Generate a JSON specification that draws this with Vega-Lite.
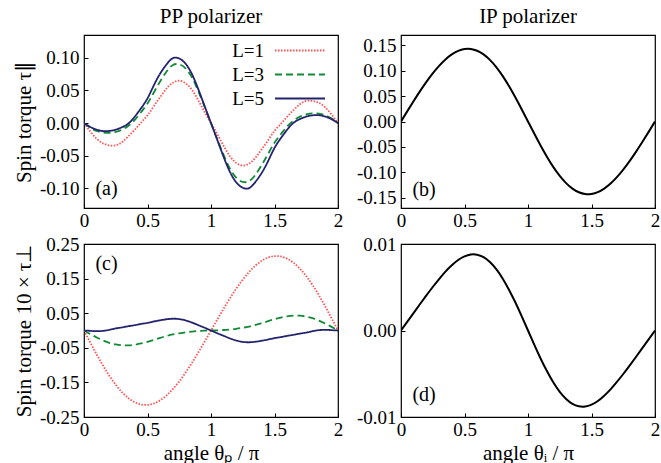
{
  "$schema": "https://vega.github.io/schema/vega-lite/v6.json",
  "background": "white",
  "padding": {"left": 12, "top": 5, "right": 4, "bottom": 0},
  "config": {
    "font": "Liberation Serif",
    "view": {"stroke": "black", "strokeWidth": 1.2},
    "axis": {"domain": false, "grid": false, "tickColor": "black", "tickSize": -4, "tickWidth": 1, "labelFont": "Liberation Serif", "labelFontSize": 19, "labelColor": "black", "labelOverlap": false, "labelFlush": false},
    "title": {"font": "Liberation Serif", "fontSize": 21, "fontWeight": "normal", "color": "black", "offset": 8},
    "legend": {"labelFont": "Liberation Serif", "labelFontSize": 19, "labelColor": "black"}
  },
  "datasets": {
    "par": [
      {"x": 0, "L1": 0, "L3": 0, "L5": 0, "ip": 0},
      {"x": 0.05, "L1": -0.013, "L3": -0.007, "L5": -0.006, "ip": 0.0204},
      {"x": 0.1, "L1": -0.024, "L3": -0.012, "L5": -0.010, "ip": 0.0404},
      {"x": 0.15, "L1": -0.031, "L3": -0.0145, "L5": -0.0122, "ip": 0.0597},
      {"x": 0.2, "L1": -0.034, "L3": -0.015, "L5": -0.0120, "ip": 0.0779},
      {"x": 0.25, "L1": -0.034, "L3": -0.0135, "L5": -0.0100, "ip": 0.0946},
      {"x": 0.3, "L1": -0.029, "L3": -0.010, "L5": -0.0062, "ip": 0.1094},
      {"x": 0.35, "L1": -0.020, "L3": -0.004, "L5": -0.0005, "ip": 0.1220},
      {"x": 0.4, "L1": -0.010, "L3": 0.005, "L5": 0.010, "ip": 0.1319},
      {"x": 0.45, "L1": 0.001, "L3": 0.017, "L5": 0.023, "ip": 0.1389},
      {"x": 0.5, "L1": 0.012, "L3": 0.030, "L5": 0.038, "ip": 0.1425},
      {"x": 0.55, "L1": 0.026, "L3": 0.047, "L5": 0.058, "ip": 0.1427},
      {"x": 0.6, "L1": 0.040, "L3": 0.064, "L5": 0.076, "ip": 0.1391},
      {"x": 0.65, "L1": 0.053, "L3": 0.079, "L5": 0.090, "ip": 0.1320},
      {"x": 0.7, "L1": 0.062, "L3": 0.089, "L5": 0.0995, "ip": 0.1212},
      {"x": 0.75, "L1": 0.065, "L3": 0.090, "L5": 0.099, "ip": 0.1070},
      {"x": 0.8, "L1": 0.061, "L3": 0.084, "L5": 0.091, "ip": 0.0897},
      {"x": 0.85, "L1": 0.051, "L3": 0.070, "L5": 0.075, "ip": 0.0697},
      {"x": 0.9, "L1": 0.035, "L3": 0.049, "L5": 0.052, "ip": 0.0476},
      {"x": 0.95, "L1": 0.017, "L3": 0.025, "L5": 0.026, "ip": 0.0242},
      {"x": 1, "L1": 0, "L3": 0, "L5": 0, "ip": 0},
      {"x": 1.05, "L1": -0.017, "L3": -0.025, "L5": -0.026, "ip": -0.0242},
      {"x": 1.1, "L1": -0.035, "L3": -0.049, "L5": -0.052, "ip": -0.0476},
      {"x": 1.15, "L1": -0.051, "L3": -0.070, "L5": -0.075, "ip": -0.0697},
      {"x": 1.2, "L1": -0.061, "L3": -0.084, "L5": -0.091, "ip": -0.0897},
      {"x": 1.25, "L1": -0.065, "L3": -0.090, "L5": -0.099, "ip": -0.1070},
      {"x": 1.3, "L1": -0.062, "L3": -0.089, "L5": -0.0995, "ip": -0.1212},
      {"x": 1.35, "L1": -0.053, "L3": -0.079, "L5": -0.090, "ip": -0.1320},
      {"x": 1.4, "L1": -0.040, "L3": -0.064, "L5": -0.076, "ip": -0.1391},
      {"x": 1.45, "L1": -0.026, "L3": -0.047, "L5": -0.058, "ip": -0.1427},
      {"x": 1.5, "L1": -0.012, "L3": -0.030, "L5": -0.038, "ip": -0.1425},
      {"x": 1.55, "L1": -0.001, "L3": -0.017, "L5": -0.023, "ip": -0.1389},
      {"x": 1.6, "L1": 0.010, "L3": -0.005, "L5": -0.010, "ip": -0.1319},
      {"x": 1.65, "L1": 0.020, "L3": 0.004, "L5": 0.0005, "ip": -0.1220},
      {"x": 1.7, "L1": 0.029, "L3": 0.010, "L5": 0.0062, "ip": -0.1094},
      {"x": 1.75, "L1": 0.034, "L3": 0.0135, "L5": 0.0100, "ip": -0.0946},
      {"x": 1.8, "L1": 0.034, "L3": 0.015, "L5": 0.0120, "ip": -0.0779},
      {"x": 1.85, "L1": 0.031, "L3": 0.0145, "L5": 0.0122, "ip": -0.0597},
      {"x": 1.9, "L1": 0.024, "L3": 0.012, "L5": 0.010, "ip": -0.0404},
      {"x": 1.95, "L1": 0.013, "L3": 0.007, "L5": 0.006, "ip": -0.0204},
      {"x": 2, "L1": 0, "L3": 0, "L5": 0, "ip": 0}
    ],
    "perp": [
      {"x": 0, "L1": 0, "L3": 0, "L5": 0, "ip": 0},
      {"x": 0.05, "L1": -0.0351, "L3": -0.0104, "L5": -0.001, "ip": 0.00102},
      {"x": 0.1, "L1": -0.0693, "L3": -0.0202, "L5": -0.002, "ip": 0.00204},
      {"x": 0.15, "L1": -0.1016, "L3": -0.0287, "L5": -0.001, "ip": 0.00306},
      {"x": 0.2, "L1": -0.1312, "L3": -0.0356, "L5": 0.002, "ip": 0.00406},
      {"x": 0.25, "L1": -0.1570, "L3": -0.0402, "L5": 0.006, "ip": 0.00503},
      {"x": 0.3, "L1": -0.1787, "L3": -0.0428, "L5": 0.009, "ip": 0.00595},
      {"x": 0.35, "L1": -0.1956, "L3": -0.0429, "L5": 0.0125, "ip": 0.00681},
      {"x": 0.4, "L1": -0.2074, "L3": -0.0411, "L5": 0.0155, "ip": 0.00754},
      {"x": 0.45, "L1": -0.2139, "L3": -0.0375, "L5": 0.019, "ip": 0.00815},
      {"x": 0.5, "L1": -0.2150, "L3": -0.0326, "L5": 0.022, "ip": 0.00857},
      {"x": 0.55, "L1": -0.2109, "L3": -0.0270, "L5": 0.026, "ip": 0.00879},
      {"x": 0.6, "L1": -0.2016, "L3": -0.0215, "L5": 0.0295, "ip": 0.00876},
      {"x": 0.65, "L1": -0.1876, "L3": -0.0160, "L5": 0.0325, "ip": 0.00847},
      {"x": 0.7, "L1": -0.1691, "L3": -0.0115, "L5": 0.034, "ip": 0.00791},
      {"x": 0.75, "L1": -0.1470, "L3": -0.0080, "L5": 0.033, "ip": 0.00709},
      {"x": 0.8, "L1": -0.1216, "L3": -0.0050, "L5": 0.029, "ip": 0.00602},
      {"x": 0.85, "L1": -0.0936, "L3": -0.0030, "L5": 0.023, "ip": 0.00472},
      {"x": 0.9, "L1": -0.0635, "L3": -0.0015, "L5": 0.0155, "ip": 0.00326},
      {"x": 0.95, "L1": -0.0321, "L3": -0.0005, "L5": 0.008, "ip": 0.00166},
      {"x": 1, "L1": 0, "L3": 0, "L5": 0, "ip": 0},
      {"x": 1.05, "L1": 0.0321, "L3": 0.0005, "L5": -0.008, "ip": -0.00166},
      {"x": 1.1, "L1": 0.0635, "L3": 0.0015, "L5": -0.0155, "ip": -0.00326},
      {"x": 1.15, "L1": 0.0936, "L3": 0.0030, "L5": -0.023, "ip": -0.00472},
      {"x": 1.2, "L1": 0.1216, "L3": 0.0050, "L5": -0.029, "ip": -0.00602},
      {"x": 1.25, "L1": 0.1470, "L3": 0.0080, "L5": -0.033, "ip": -0.00709},
      {"x": 1.3, "L1": 0.1691, "L3": 0.0115, "L5": -0.034, "ip": -0.00791},
      {"x": 1.35, "L1": 0.1876, "L3": 0.0160, "L5": -0.0325, "ip": -0.00847},
      {"x": 1.4, "L1": 0.2016, "L3": 0.0215, "L5": -0.0295, "ip": -0.00876},
      {"x": 1.45, "L1": 0.2109, "L3": 0.0270, "L5": -0.026, "ip": -0.00879},
      {"x": 1.5, "L1": 0.2150, "L3": 0.0326, "L5": -0.022, "ip": -0.00857},
      {"x": 1.55, "L1": 0.2139, "L3": 0.0375, "L5": -0.019, "ip": -0.00815},
      {"x": 1.6, "L1": 0.2074, "L3": 0.0411, "L5": -0.0155, "ip": -0.00754},
      {"x": 1.65, "L1": 0.1956, "L3": 0.0429, "L5": -0.0125, "ip": -0.00681},
      {"x": 1.7, "L1": 0.1787, "L3": 0.0428, "L5": -0.009, "ip": -0.00595},
      {"x": 1.75, "L1": 0.1570, "L3": 0.0402, "L5": -0.006, "ip": -0.00503},
      {"x": 1.8, "L1": 0.1312, "L3": 0.0356, "L5": -0.002, "ip": -0.00406},
      {"x": 1.85, "L1": 0.1016, "L3": 0.0287, "L5": 0.001, "ip": -0.00306},
      {"x": 1.9, "L1": 0.0693, "L3": 0.0202, "L5": 0.002, "ip": -0.00204},
      {"x": 1.95, "L1": 0.0351, "L3": 0.0104, "L5": 0.001, "ip": -0.00102},
      {"x": 2, "L1": 0, "L3": 0, "L5": 0, "ip": 0}
    ]
  },
  "resolve": {"scale": {"color": "independent", "strokeDash": "independent", "x": "independent", "y": "independent"}, "legend": {"color": "independent", "strokeDash": "independent"}},
  "spacing": 3,
  "vconcat": [
    {
      "spacing": 11,
      "resolve": {"scale": {"color": "independent", "strokeDash": "independent", "x": "independent", "y": "independent"}, "legend": {"color": "independent", "strokeDash": "independent"}},
      "hconcat": [
        {
          "width": 254, "height": 173,
          "title": {"text": "PP polarizer"},
          "encoding": {
            "x": {"type": "quantitative", "scale": {"domain": [0, 2], "nice": false},
                  "axis": {"title": null, "values": [0, 0.5, 1, 1.5, 2], "format": "~g",
                           "labelFont": "Liberation Serif", "labelFontSize": 19, "labelColor": "black", "labelPadding": 7, "labelFlush": false, "labelOverlap": false}},
            "y": {"type": "quantitative", "scale": {"domain": [-0.13, 0.135], "nice": false, "zero": false},
                  "axis": {"title": "Spin torque  τ∥", "titleFont": "Liberation Serif", "titleFontSize": 21, "titleFontWeight": "normal", "titleColor": "black", "titlePadding": 5,
                           "values": [-0.1, -0.05, 0, 0.05, 0.1],
                           "labelFont": "Liberation Serif", "labelFontSize": 19, "labelColor": "black", "labelPadding": 9, "labelFlush": false, "labelOverlap": false,
                           "labelExpr": "datum.value < 0 ? '-' + format(-datum.value, '.2f') : format(datum.value, '.2f')"}}
          },
          "layer": [
            {
              "data": {"name": "par"},
              "transform": [{"fold": ["L1", "L3", "L5"], "as": ["series", "v"]}],
              "mark": {"type": "line", "interpolate": "natural", "strokeWidth": 1.8, "clip": true},
              "encoding": {
                "x": {"field": "x"},
                "y": {"field": "v"},
                "color": {"field": "series", "type": "nominal",
                          "scale": {"domain": ["L1", "L3", "L5"], "range": ["#ff5050", "#138a36", "#23236e"]},
                          "legend": {"title": null, "orient": "none", "legendX": 190, "legendY": 2, "labelExpr": "'L=' + substring(datum.label, 1)",
                                     "labelFont": "Liberation Serif", "labelFontSize": 19, "labelColor": "black", "labelAlign": "right", "labelOffset": -37,
                                     "symbolType": "M-1,0H3", "symbolSize": 625, "symbolStrokeWidth": 2, "rowPadding": 0}},
                "strokeDash": {"field": "series", "type": "nominal",
                               "scale": {"domain": ["L1", "L3", "L5"], "range": [[1.5, 1.5], [7, 4], [1, 0]]},
                               "legend": {"title": null, "orient": "none", "legendX": 190, "legendY": 2, "labelExpr": "'L=' + substring(datum.label, 1)",
                                          "labelFont": "Liberation Serif", "labelFontSize": 19, "labelColor": "black", "labelAlign": "right", "labelOffset": -37,
                                          "symbolType": "M-1,0H3", "symbolSize": 625, "symbolStrokeWidth": 2, "rowPadding": 0}}
              }
            },
            {
              "data": {"values": [{"px": 0.09, "py": -0.101, "t": "(a)"}]},
              "mark": {"type": "text", "align": "left", "baseline": "middle", "fontSize": 20, "font": "Liberation Serif", "color": "black"},
              "encoding": {"x": {"field": "px"}, "y": {"field": "py"}, "text": {"field": "t"}}
            }
          ]
        },
        {
          "width": 254, "height": 173,
          "title": {"text": "IP polarizer"},
          "encoding": {
            "x": {"type": "quantitative", "scale": {"domain": [0, 2], "nice": false},
                  "axis": {"title": null, "values": [0, 0.5, 1, 1.5, 2], "format": "~g",
                           "labelFont": "Liberation Serif", "labelFontSize": 19, "labelColor": "black", "labelPadding": 7, "labelFlush": false, "labelOverlap": false}},
            "y": {"type": "quantitative", "scale": {"domain": [-0.17, 0.17], "nice": false, "zero": false},
                  "axis": {"title": null, "values": [-0.15, -0.1, -0.05, 0, 0.05, 0.1, 0.15],
                           "labelFont": "Liberation Serif", "labelFontSize": 19, "labelColor": "black", "labelPadding": 9, "labelFlush": false, "labelOverlap": false,
                           "labelExpr": "datum.value < 0 ? '-' + format(-datum.value, '.2f') : format(datum.value, '.2f')"}}
          },
          "layer": [
            {
              "data": {"name": "par"},
              "mark": {"type": "line", "interpolate": "natural", "strokeWidth": 2, "color": "black", "clip": true},
              "encoding": {"x": {"field": "x"}, "y": {"field": "ip"}}
            },
            {
              "data": {"values": [{"px": 0.09, "py": -0.135, "t": "(b)"}]},
              "mark": {"type": "text", "align": "left", "baseline": "middle", "fontSize": 20, "font": "Liberation Serif", "color": "black"},
              "encoding": {"x": {"field": "px"}, "y": {"field": "py"}, "text": {"field": "t"}}
            }
          ]
        }
      ]
    },
    {
      "spacing": 11,
      "resolve": {"scale": {"color": "independent", "strokeDash": "independent", "x": "independent", "y": "independent"}, "legend": {"color": "independent", "strokeDash": "independent"}},
      "hconcat": [
        {
          "width": 254, "height": 173,
          "encoding": {
            "x": {"type": "quantitative", "scale": {"domain": [0, 2], "nice": false},
                  "axis": {"title": "angle θₚ / π", "titleFont": "Liberation Serif", "titleFontSize": 21, "titleFontWeight": "normal", "titleColor": "black", "titlePadding": 3,
                           "values": [0, 0.5, 1, 1.5, 2], "format": "~g",
                           "labelFont": "Liberation Serif", "labelFontSize": 19, "labelColor": "black", "labelPadding": 7, "labelFlush": false, "labelOverlap": false}},
            "y": {"type": "quantitative", "scale": {"domain": [-0.25, 0.25], "nice": false, "zero": false},
                  "axis": {"title": "Spin torque  10 × τ⊥", "titleFont": "Liberation Serif", "titleFontSize": 21, "titleFontWeight": "normal", "titleColor": "black", "titlePadding": 5,
                           "values": [-0.25, -0.15, -0.05, 0.05, 0.15, 0.25],
                           "labelFont": "Liberation Serif", "labelFontSize": 19, "labelColor": "black", "labelPadding": 9, "labelFlush": false, "labelOverlap": false,
                           "labelExpr": "datum.value < 0 ? '-' + format(-datum.value, '.2f') : format(datum.value, '.2f')"}}
          },
          "layer": [
            {
              "data": {"name": "perp"},
              "transform": [{"fold": ["L1", "L3", "L5"], "as": ["series", "v"]}],
              "mark": {"type": "line", "interpolate": "natural", "strokeWidth": 1.8, "clip": true},
              "encoding": {
                "x": {"field": "x"},
                "y": {"field": "v"},
                "color": {"field": "series", "type": "nominal",
                          "scale": {"domain": ["L1", "L3", "L5"], "range": ["#ff5050", "#138a36", "#23236e"]}, "legend": null},
                "strokeDash": {"field": "series", "type": "nominal",
                               "scale": {"domain": ["L1", "L3", "L5"], "range": [[1.5, 1.5], [7, 4], [1, 0]]}, "legend": null}
              }
            },
            {
              "data": {"values": [{"px": 0.09, "py": 0.192, "t": "(c)"}]},
              "mark": {"type": "text", "align": "left", "baseline": "middle", "fontSize": 20, "font": "Liberation Serif", "color": "black"},
              "encoding": {"x": {"field": "px"}, "y": {"field": "py"}, "text": {"field": "t"}}
            }
          ]
        },
        {
          "width": 254, "height": 173,
          "encoding": {
            "x": {"type": "quantitative", "scale": {"domain": [0, 2], "nice": false},
                  "axis": {"title": "angle θᵢ / π", "titleFont": "Liberation Serif", "titleFontSize": 21, "titleFontWeight": "normal", "titleColor": "black", "titlePadding": 3,
                           "values": [0, 0.5, 1, 1.5, 2], "format": "~g",
                           "labelFont": "Liberation Serif", "labelFontSize": 19, "labelColor": "black", "labelPadding": 7, "labelFlush": false, "labelOverlap": false}},
            "y": {"type": "quantitative", "scale": {"domain": [-0.01, 0.01], "nice": false, "zero": false},
                  "axis": {"title": null, "values": [-0.01, 0, 0.01],
                           "labelFont": "Liberation Serif", "labelFontSize": 19, "labelColor": "black", "labelPadding": 9, "labelFlush": false, "labelOverlap": false,
                           "labelExpr": "datum.value < 0 ? '-' + format(-datum.value, '.2f') : format(datum.value, '.2f')"}}
          },
          "layer": [
            {
              "data": {"name": "perp"},
              "mark": {"type": "line", "interpolate": "natural", "strokeWidth": 2, "color": "black", "clip": true},
              "encoding": {"x": {"field": "x"}, "y": {"field": "ip"}}
            },
            {
              "data": {"values": [{"px": 0.09, "py": -0.0075, "t": "(d)"}]},
              "mark": {"type": "text", "align": "left", "baseline": "middle", "fontSize": 20, "font": "Liberation Serif", "color": "black"},
              "encoding": {"x": {"field": "px"}, "y": {"field": "py"}, "text": {"field": "t"}}
            }
          ]
        }
      ]
    }
  ]
}
